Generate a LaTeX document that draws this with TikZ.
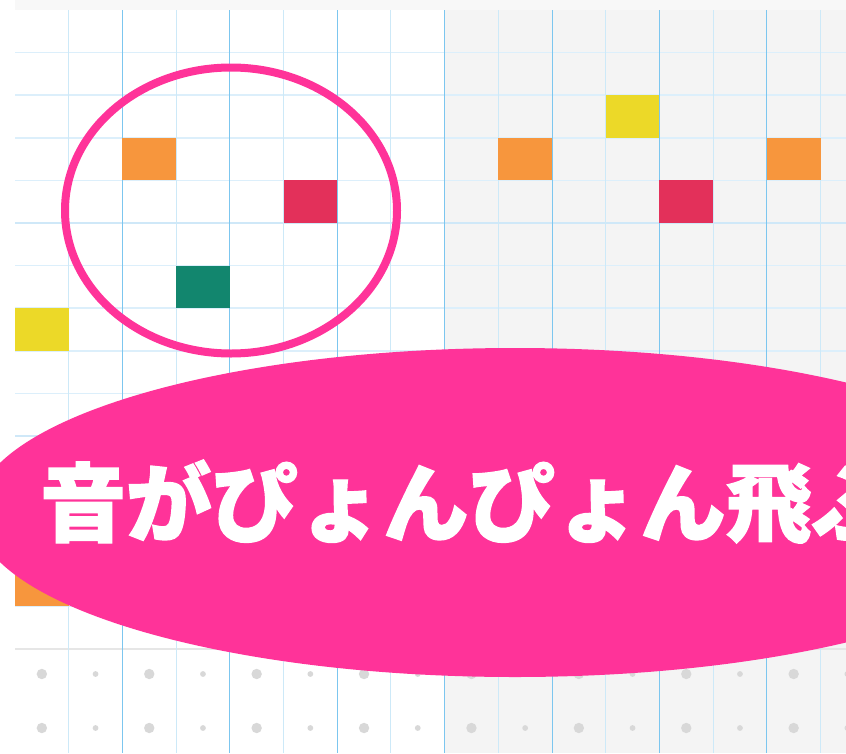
\documentclass[tikz,border=0pt]{standalone}
\usepackage{fontspec}
\newfontfamily\cjk{Noto Sans CJK JP}[BoldFeatures={FakeBold=1.6}]
\definecolor{pinkc}{HTML}{FF3399}
\definecolor{orangec}{HTML}{F7963D}
\definecolor{redc}{HTML}{E3305A}
\definecolor{greenc}{HTML}{12866E}
\definecolor{yellowc}{HTML}{ECD928}
\definecolor{panel}{HTML}{F4F4F4}
\definecolor{topstrip}{HTML}{F8F8F8}
\definecolor{hline}{HTML}{DCEFFB}
\definecolor{hlinebeat}{HTML}{CFE8F8}
\definecolor{vlight}{HTML}{CDE9F8}
\definecolor{vdark}{HTML}{7CC6EF}
\definecolor{dotc}{HTML}{D8D8D8}
\definecolor{sepc}{HTML}{E6E6E6}
\tikzset{
  gridh/.style={hline, line width=1.6pt},
  gridv/.style={line width=1pt},
}
\begin{document}
\begin{tikzpicture}[x=1pt,y=-1pt]
\useasboundingbox (0,0) rectangle (846,753);
\clip (0,0) rectangle (846,753);
\fill[white] (0,0) rectangle (846,753);
\fill[topstrip] (15,0) rectangle (846,10);
\fill[panel] (444.6,10) rectangle (846,753);
% horizontal grid lines
\foreach \k in {1,...,14}{
  \draw[gridh] (15,{10+42.6*\k}) -- (846,{10+42.6*\k});
}
\foreach \k in {5,10}{
  \draw[hlinebeat, line width=2.6pt] (15,{10+42.6*\k}) -- (846,{10+42.6*\k});
}
\draw[sepc, line width=2.4pt] (15,649) -- (846,649);
% vertical grid lines
\foreach \k in {1,3,...,15}{
  \draw[gridv, vlight] ({15+53.7*\k},10) -- ({15+53.7*\k},753);
}
\foreach \k in {2,4,...,14}{
  \draw[gridv, vdark] ({15+53.7*\k},10) -- ({15+53.7*\k},753);
}
% dots
\foreach \y in {674,728}{
  \foreach \j in {0,...,7}{
    \fill[dotc] ({41.85+107.4*\j},\y) circle (5.2);
    \fill[dotc] ({95.55+107.4*\j},\y) circle (2.9);
  }
}
% blocks: (col,row,colour)
\foreach \c/\r/\col in {2/3/orangec, 5/4/redc, 3/6/greenc, 0/7/yellowc, 0/13/orangec,
                        9/3/orangec, 11/2/yellowc, 12/4/redc, 14/3/orangec}{
  \fill[\col] ({15+53.7*\c},{10+42.6*\r}) rectangle ({15+53.7*(\c+1)},{10+42.6*(\r+1)});
}
% pink ring
\draw[pinkc, line width=8pt] (231,210.5) ellipse [x radius=166, y radius=143];
% big pink ellipse with title
\fill[pinkc] (515,512.5) ellipse [x radius=540, y radius=164.5];
\node[anchor=base west, inner sep=0pt, text=white, font=\cjk\bfseries\fontsize{85.7}{90}\selectfont]
  (title) at (40,535) {音がぴょんぴょん飛ぶ};
\end{tikzpicture}
\end{document}
